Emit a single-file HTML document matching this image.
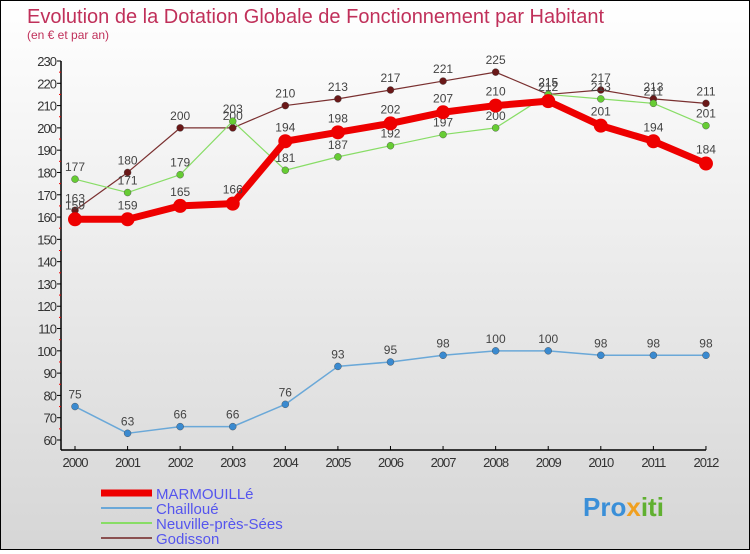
<!DOCTYPE html>
<html><head><meta charset="utf-8"><style>
html,body{margin:0;padding:0}
body{width:750px;height:550px;overflow:hidden;font-family:"Liberation Sans",sans-serif}
#wrap{position:relative;width:748px;height:548px;border:1px solid #000;background:linear-gradient(#ffffff,#d6d6d6)}
</style></head><body>
<div id="wrap">
<svg id="chart" width="748" height="548">
<text x="26" y="22" font-size="20" fill="#c0305a">Evolution de la Dotation Globale de Fonctionnement par Habitant</text>
<text x="26" y="38" font-size="12" fill="#c0305a">(en € et par an)</text>
<g id="axes"></g><g id="series"></g><g id="legend"></g>
<text x="582" y="515" font-size="26" font-weight="bold" fill="#3a8fd8">Pro<tspan fill="#f0a020">x</tspan><tspan fill="#60b030">iti</tspan></text>
</svg></div>
<script>
const years=["2000","2001","2002","2003","2004","2005","2006","2007","2008","2009","2010","2011","2012"];
const marmouille=[159,159,165,166,194,198,202,207,210,212,201,194,184];
const chailloue=[75,63,66,66,76,93,95,98,100,100,98,98,98];
const neuville=[177,171,179,203,181,187,192,197,200,215,213,211,201];
const godisson=[163,180,200,200,210,213,217,221,225,215,217,213,211];
const yTicks=[60,70,80,90,100,110,120,130,140,150,160,170,180,190,200,210,220,230];
const NS="http://www.w3.org/2000/svg";
function X(i){return 74+i*52.58;}
function Y(v){return 439-(v-60)*(379/170);}
function mk(t,a,p){const e=document.createElementNS(NS,t);for(const k in a)e.setAttribute(k,a[k]);p.appendChild(e);return e;}
const ax=document.getElementById('axes');
let e=mk('line',{x1:60,y1:Y(230),x2:60,y2:449,stroke:'#000','stroke-width':1.5},ax);

e=mk('line',{x1:60,y1:449,x2:X(12),y2:449,stroke:'#000','stroke-width':1.5},ax);

yTicks.forEach(v=>{mk('line',{x1:56,y1:Y(v),x2:60,y2:Y(v),stroke:'#000'},ax);
 mk('line',{x1:58,y1:Y(v+5),x2:60,y2:Y(v+5),stroke:v<230?'#e00':'none'},ax);
 const t=mk('text',{x:55,y:Y(v)+5,'font-size':13,fill:'#333','text-anchor':'end','letter-spacing':'-1'},ax);t.textContent=v;
 });
years.forEach((y,i)=>{mk('line',{x1:X(i),y1:445,x2:X(i),y2:449,stroke:'#000'},ax);
 const t=mk('text',{x:X(i),y:466,'font-size':13,fill:'#333','text-anchor':'middle','letter-spacing':'-1'},ax);t.textContent=y;
 });
const sg=document.getElementById('series');
const series=[
 {n:'godisson',d:godisson,c:'#7a3030',w:1.2,r:3.5,f:'#6a1818'},
 {n:'neuville',d:neuville,c:'#88dd66',w:1.2,r:3.5,f:'#66cc33'},
 {n:'chailloue',d:chailloue,c:'#6aa8d8',w:1.5,r:3.5,f:'#3a8ad0'},
 {n:'marmouille',d:marmouille,c:'#ee0000',w:7,r:7,f:'#ee0000'}];
series.forEach(s=>{
 const g=mk('g',{},sg);
 const l=mk('polyline',{points:s.d.map((v,i)=>X(i)+','+Y(v)).join(' '),fill:'none',stroke:s.c,'stroke-width':s.w,'stroke-linejoin':'round'},g);
 
 s.d.forEach((v,i)=>{const c=mk('circle',{cx:X(i),cy:Y(v),r:s.r,fill:s.f,stroke:s.n=='marmouille'?'none':'#444','stroke-width':0.4},g);
  
  const t=mk('text',{x:X(i),y:Y(v)-(s.n=='marmouille'?10:8),'font-size':12,fill:'#444','text-anchor':'middle'},g);t.textContent=v;
  });
});
const lg=document.getElementById('legend');
const leg=[['MARMOUILLé','#ee0000',7],['Chailloué','#6aa8d8',2],['Neuville-près-Sées','#88dd66',2],['Godisson','#8a5050',2]];
leg.forEach((L,i)=>{const y=492+i*15;
 const g=mk('g',{},lg);
 mk('line',{x1:100,y1:y,x2:151,y2:y,stroke:L[1],'stroke-width':L[2]},g);
 const t=mk('text',{x:155,y:y+6,'font-size':15,fill:'#5555ee'},g);t.textContent=L[0];});
</script></body></html>
